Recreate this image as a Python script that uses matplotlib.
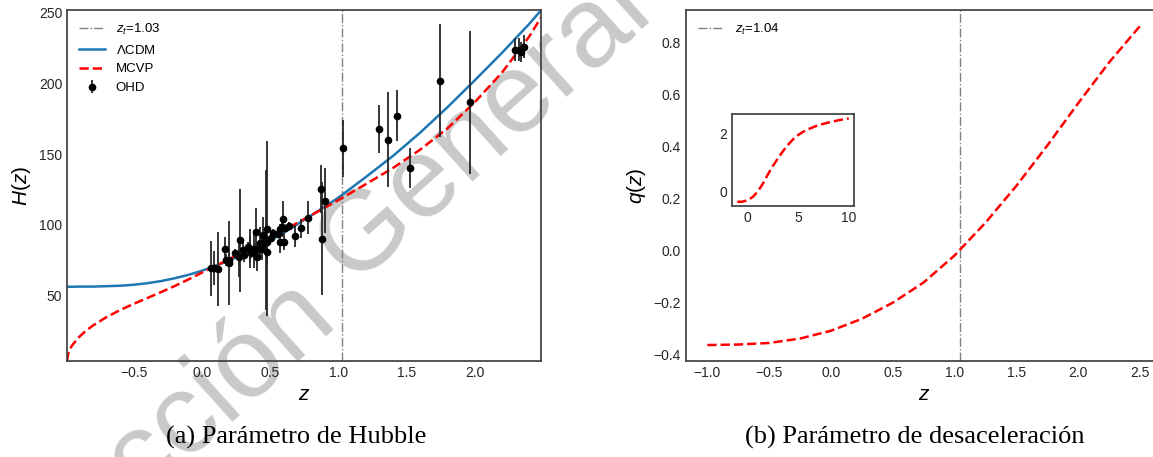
import matplotlib
matplotlib.use("Agg")
import matplotlib.pyplot as plt

# ---------------- data ----------------
z_model = [-0.99, -0.98, -0.97, -0.95, -0.9, -0.85, -0.8, -0.7, -0.6, -0.5, -0.4, -0.3, -0.2, -0.1,
           0.0, 0.2, 0.4, 0.6, 0.8, 1.0, 1.2, 1.4, 1.6, 1.8, 2.0, 2.2, 2.4, 2.49]
H_lcdm = [56.0, 56.0, 56.0, 56.0, 56.1, 56.1, 56.1, 56.4, 56.7, 57.4, 58.5, 60.0, 62.0, 64.4,
          67.3, 74.5, 83.5, 94.2, 106.4, 119.0, 133.5, 148.5, 165.0, 183.0, 202.0, 221.5, 242.0, 252.0]
H_mcvp = [3.4, 9.0, 11.6, 14.8, 20.5, 24.9, 28.5, 34.5, 39.5, 43.9, 48.0, 52.2, 56.5, 61.1,
          66.0, 75.5, 85.8, 96.0, 106.5, 117.3, 128.5, 140.0, 153.0, 168.0, 186.5, 207.5, 233.0, 247.0]

z_obs = [0.07, 0.09, 0.12, 0.17, 0.179, 0.199, 0.2, 0.27, 0.28, 0.352, 0.3802, 0.4, 0.4004,
         0.4247, 0.4497, 0.47, 0.4783, 0.48, 0.593, 0.68, 0.781, 0.875, 0.88, 0.9, 1.037,
         1.3, 1.363, 1.43, 1.53, 1.75, 1.965,
         0.24, 0.3, 0.31, 0.34, 0.35, 0.36, 0.38, 0.40, 0.43, 0.44, 0.44, 0.48, 0.51, 0.52,
         0.56, 0.57, 0.57, 0.59, 0.60, 0.61, 0.64, 0.73, 2.30, 2.33, 2.34, 2.36]
H_obs = [69, 69, 68.6, 83, 75, 75, 72.9, 77, 88.8, 83, 83, 95, 77,
         87.1, 92.8, 89, 80.9, 97, 104, 92, 105, 125, 90, 117, 154,
         168, 160, 177, 140, 202, 186.5,
         79.69, 81.7, 78.18, 83.8, 82.7, 79.94, 81.5, 82.04, 86.45, 82.6, 84.81, 87.79, 90.4, 94.35,
         93.34, 87.6, 96.8, 98.48, 87.9, 97.3, 98.82, 97.3, 224, 224, 222, 226]
H_err = [19.6, 12, 26.2, 8, 4, 5, 29.6, 14, 36.6, 14, 13.5, 17, 10.2,
         11.2, 12.9, 49.6, 9, 62, 13, 8, 12, 17, 40, 23, 20,
         17, 33.6, 18, 14, 40, 50.4,
         2.99, 6.22, 4.74, 3.66, 9.1, 3.38, 1.9, 2.03, 3.68, 7.8, 1.83, 2.03, 1.9, 2.64,
         2.3, 7.8, 3.4, 3.18, 6.1, 2.1, 2.98, 7.0, 8, 8, 7, 8]

z_q = [-1.0, -0.75, -0.5, -0.25, 0.0, 0.25, 0.5, 0.75, 1.0, 1.25, 1.5, 1.75, 2.0, 2.25, 2.5]
q_mcvp = [-0.363, -0.361, -0.355, -0.338, -0.308, -0.262, -0.200, -0.122, -0.018, 0.108,
          0.250, 0.405, 0.568, 0.725, 0.865]

z_inset = [-1.0, -0.5, 0.0, 0.5, 1.0, 1.5, 2.0, 2.5, 3.0, 3.5, 4.0, 4.5, 5.0, 5.5, 6.0, 7.0, 8.0, 9.0, 10.0]
q_inset = [-0.36, -0.355, -0.31, -0.2, -0.02, 0.25, 0.57, 0.865, 1.13, 1.38, 1.6, 1.79, 1.94,
           2.05, 2.14, 2.28, 2.37, 2.45, 2.51]

zt_H = 1.03
zt_q = 1.04

# ---------------- style ----------------
plt.rcParams.update({
    "font.family": ["Liberation Sans", "DejaVu Sans"],
    "mathtext.fontset": "custom",
    "mathtext.it": "Liberation Sans:italic",
    "mathtext.rm": "Liberation Sans",
    "axes.edgecolor": "0.25",
    "axes.linewidth": 1.25,
    "xtick.major.size": 0,
    "ytick.major.size": 0,
    "xtick.color": "0.15",
    "ytick.color": "0.15",
    "xtick.labelsize": 10,
    "ytick.labelsize": 10,
})

W, Hh = 1153, 457
fig = plt.figure(figsize=(W / 100, Hh / 100), dpi=100)

def px(x0, y0, x1, y1):
    return [x0 / W, 1 - y1 / Hh, (x1 - x0) / W, (y1 - y0) / Hh]

# watermark (behind everything)
wm_kw = dict(fontsize=82, color="#c9c9c9", rotation=42, rotation_mode="anchor",
             va="baseline", zorder=-10, family="Liberation Sans")
fig.text(338 / W, 1 - 318 / Hh, "Dirección", ha="right", **wm_kw)
fig.text(354 / W, 1 - 288 / Hh, "General de Bibliotecas", ha="left", **wm_kw)

# ---------------- left panel ----------------
ax1 = fig.add_axes(px(67, 10, 541.3, 361))
ax1.patch.set_alpha(0)
ax1.axvline(zt_H, color="gray", ls="-.", lw=1, label=r"$z_t$=1.03")
ax1.plot(z_model, H_lcdm, color="#1f77b4", lw=1.8, label=r"$\Lambda$CDM")
ax1.plot(z_model, H_mcvp, color="red", ls="--", lw=1.8, label="MCVP")
ax1.errorbar(z_obs, H_obs, yerr=H_err, fmt="o", color="k", ms=4.5, ecolor="0.15",
             elinewidth=1.3, capsize=0, label="OHD")
ax1.set_xlim(min(z_model), max(z_model))
ax1.set_ylim(min(H_mcvp), max(H_lcdm))
ax1.set_xticks([-0.5, 0.0, 0.5, 1.0, 1.5, 2.0])
ax1.set_yticks([50, 100, 150, 200, 250])
ax1.set_xlabel(r"$z$", fontsize=15)
ax1.set_ylabel(r"$H(z)$", fontsize=15)
ax1.legend(loc="upper left", frameon=False, fontsize=9.5)

# ---------------- right panel ----------------
ax2 = fig.add_axes(px(685.7, 10, 1161.7, 361))
ax2.patch.set_alpha(0)
ax2.axvline(zt_q, color="gray", ls="-.", lw=1, label=r"$z_t$=1.04")
ax2.plot(z_q, q_mcvp, color="red", ls="--", lw=1.8)
ax2.set_xticks([-1.0, -0.5, 0.0, 0.5, 1.0, 1.5, 2.0, 2.5])
ax2.set_yticks([-0.4, -0.2, 0.0, 0.2, 0.4, 0.6, 0.8])
ax2.set_xlabel(r"$z$", fontsize=15)
ax2.set_ylabel(r"$q(z)$", fontsize=15)
ax2.legend(loc="upper left", frameon=False, fontsize=9.5)

# inset
ax3 = fig.add_axes(px(731.7, 114.3, 854.3, 206))
ax3.plot(z_inset, q_inset, color="red", ls="--", lw=1.8)
ax3.set_xticks([0, 5, 10])
ax3.set_yticks([0, 2])

# captions
fig.text(296 / W, 1 - 437 / Hh, "(a) Parámetro de Hubble", ha="center", va="center",
         family="Liberation Serif", fontsize=19)
fig.text(915 / W, 1 - 437 / Hh, "(b) Parámetro de desaceleración", ha="center", va="center",
         family="Liberation Serif", fontsize=19)

fig.savefig("out.png", dpi=100)
